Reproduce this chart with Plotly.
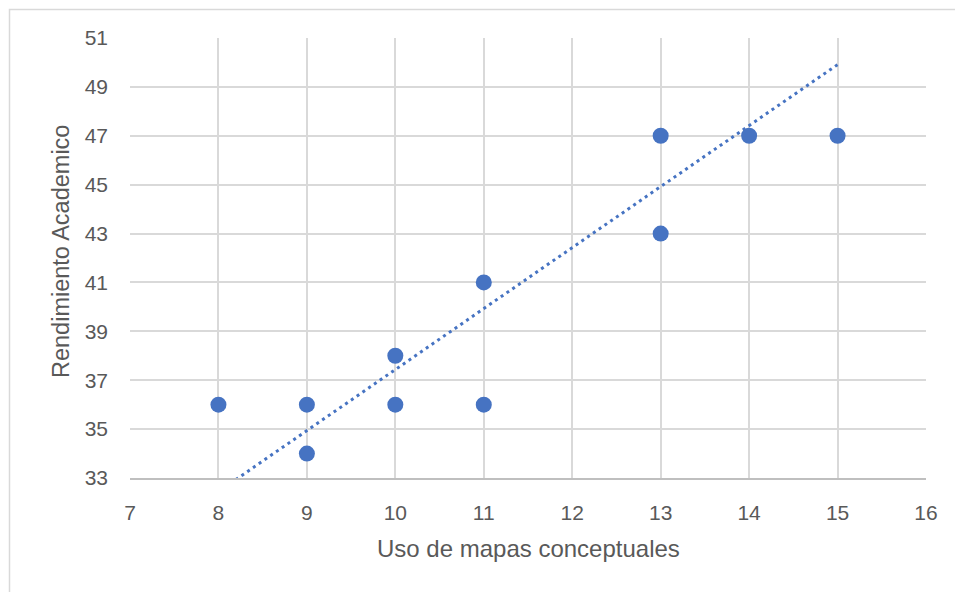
import plotly.graph_objects as go

# Uso de mapas conceptuales vs. Rendimiento Academico
uso_mapas = [8, 9, 9, 10, 10, 11, 11, 13, 13, 14, 15]
rendimiento = [36, 36, 34, 38, 36, 41, 36, 47, 43, 47, 47]

# Linear trendline coefficients (y = slope * x + intercept)
trend_slope = 2.495
trend_intercept = 12.485

x_ticks = list(range(7, 17))
y_ticks = list(range(33, 52, 2))

blue = "#4673C2"
font_family = "Liberation Sans, Arial, sans-serif"
text_color = "#595959"

trend_x = [min(uso_mapas), max(uso_mapas)]
trend_y = [trend_slope * v + trend_intercept for v in trend_x]

fig = go.Figure()
fig.add_trace(go.Scatter(
    x=trend_x, y=trend_y, mode="lines",
    line=dict(color=blue, width=3, dash="3px,4px"),
    hoverinfo="skip", showlegend=False,
))
fig.add_trace(go.Scatter(
    x=uso_mapas, y=rendimiento, mode="markers",
    marker=dict(color=blue, size=16, line=dict(width=0)),
    showlegend=False,
))

fig.update_layout(
    width=955, height=592,
    margin=dict(l=130, r=29, t=38, b=114),
    paper_bgcolor="white", plot_bgcolor="white",
    font=dict(family=font_family, color=text_color, size=21),
    xaxis=dict(
        range=[7, 16], tickvals=x_ticks, ticktext=[str(v) for v in x_ticks],
        showgrid=True, gridcolor="#d9d9d9", gridwidth=1.5,
        showline=True, linecolor="#bfbfbf", linewidth=1.5,
        zeroline=False, ticks="", ticklabelstandoff=15,
        tickfont=dict(size=21, color=text_color),
        fixedrange=True,
    ),
    yaxis=dict(
        range=[33, 51], tickvals=y_ticks, ticktext=[str(v) for v in y_ticks],
        showgrid=True, gridcolor="#d9d9d9", gridwidth=1.5,
        showline=False, zeroline=False, ticks="", ticklabelstandoff=21,
        tickfont=dict(size=21, color=text_color),
        fixedrange=True,
    ),
    annotations=[
        dict(text="Uso de mapas conceptuales", xref="paper", yref="paper",
             x=0.5, y=(478 - 548) / 440, xanchor="center", yanchor="middle",
             showarrow=False, font=dict(size=24, color=text_color, family=font_family)),
        dict(text="Rendimiento Academico", xref="paper", yref="paper",
             x=(61 - 130) / 796, y=(478 - 252) / 440, xanchor="center", yanchor="middle",
             textangle=-90, showarrow=False,
             font=dict(size=23.5, color=text_color, family=font_family)),
    ],
    shapes=[
        dict(type="rect", xref="paper", yref="paper",
             x0=(9.5 - 130) / 796, x1=1.2, y0=-0.4, y1=(478 - 9.5) / 440,
             line=dict(color="#d9d9d9", width=1.5), fillcolor="rgba(0,0,0,0)",
             layer="below"),
    ],
)

fig.write_html("out.html")
